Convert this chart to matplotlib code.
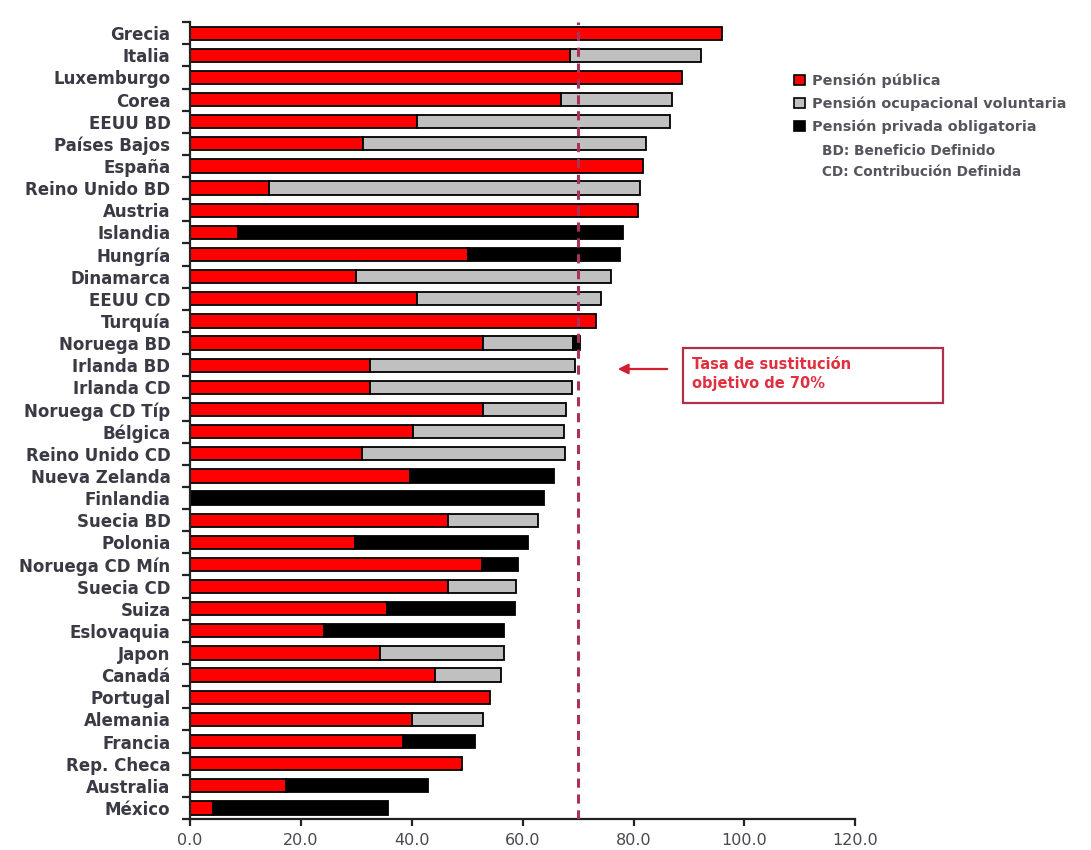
import matplotlib
matplotlib.use("Agg")
import matplotlib.pyplot as plt
from matplotlib.patches import Patch, Rectangle, FancyArrowPatch
import numpy as np

plt.rcParams["font.family"] = ["DejaVu Sans"]

paises = [
    "Grecia", "Italia", "Luxemburgo", "Corea", "EEUU BD", "Países Bajos",
    "España", "Reino Unido BD", "Austria", "Islandia", "Hungría", "Dinamarca",
    "EEUU CD", "Turquía", "Noruega BD", "Irlanda BD", "Irlanda CD",
    "Noruega CD Típ", "Bélgica", "Reino Unido CD", "Nueva Zelanda", "Finlandia",
    "Suecia BD", "Polonia", "Noruega CD Mín", "Suecia CD", "Suiza", "Eslovaquia",
    "Japon", "Canadá", "Portugal", "Alemania", "Francia", "Rep. Checa",
    "Australia", "México",
]
publica = [
    96.0, 68.5, 88.8, 67.0, 40.9, 31.2, 81.8, 14.3, 80.8, 8.7, 50.2, 30.0,
    40.9, 73.2, 52.8, 32.4, 32.4, 52.8, 40.3, 31.0, 39.7, 0.0, 46.6, 29.8,
    52.6, 46.6, 35.5, 24.2, 34.3, 44.2, 54.2, 40.0, 38.4, 49.0, 17.4, 4.2,
]
voluntaria = [
    0.0, 23.7, 0.0, 20.0, 45.6, 51.0, 0.0, 66.9, 0.0, 0.0, 0.0, 45.9,
    33.2, 0.0, 16.3, 37.1, 36.5, 15.1, 27.1, 36.6, 0.0, 0.0, 16.1, 0.0,
    0.0, 12.2, 0.0, 0.0, 22.3, 11.9, 0.0, 12.8, 0.0, 0.0, 0.0, 0.0,
]
obligatoria = [
    0.0, 0.0, 0.0, 0.0, 0.0, 0.0, 0.0, 0.0, 0.0, 69.4, 27.4, 0.0,
    0.0, 0.0, 1.2, 0.0, 0.0, 0.0, 0.0, 0.0, 26.0, 63.9, 0.0, 31.1,
    6.5, 0.0, 23.2, 32.5, 0.0, 0.0, 0.0, 0.0, 13.0, 0.0, 25.5, 31.6,
]
objetivo = 70
xticks = [0, 20, 40, 60, 80, 100, 120]

series = [
    ("Pensión pública", publica, "#ff0000"),
    ("Pensión ocupacional voluntaria", voluntaria, "#c0c0c0"),
    ("Pensión privada obligatoria", obligatoria, "#000000"),
]

fig = plt.figure(figsize=(10.91, 8.5), dpi=100)
ax = fig.add_axes([0.174, 0.0365, 0.610, 0.9375])

y = np.arange(len(paises))
left = np.zeros(len(paises))
for nombre, valores, color in series:
    v = np.array(valores)
    edges = ["#000000" if val > 0 else "none" for val in v]
    ax.barh(y, v, left=left, height=0.6, color=color, edgecolor=edges,
            linewidth=1.3, zorder=2)
    left += v

ax.axvline(objetivo, color="#a8325a", linestyle=(0, (3, 2.2)), linewidth=2.2,
           zorder=3)

ax.set_ylim(len(paises) - 0.5, -0.5)
ax.set_xlim(0, 120)
ax.set_yticks(y)
ax.set_yticklabels(paises)
ax.set_yticks(np.arange(len(paises) + 1) - 0.5, minor=True)
ax.set_xticks(xticks)
ax.set_xticklabels([f"{t:.1f}" for t in xticks])

label_color = "#3a3a44"
ax.tick_params(axis="y", which="major", length=0, pad=14, labelsize=12,
               labelcolor=label_color)
ax.tick_params(axis="y", which="minor", length=6, width=1.6, color="#222222")
ax.tick_params(axis="x", length=5, width=1.6, color="#222222", pad=5,
               labelsize=11.5, labelcolor="#48484f")
for lbl in ax.get_yticklabels():
    lbl.set_fontweight("bold")

for side in ("top", "right"):
    ax.spines[side].set_visible(False)
for side in ("left", "bottom"):
    ax.spines[side].set_linewidth(1.6)
    ax.spines[side].set_color("#222222")

handles = [Patch(facecolor=c, edgecolor="#000000", linewidth=1.2, label=n)
           for n, _, c in series]
fig.legend(handles=handles, loc="upper left",
           bbox_to_anchor=(0.716, 0.929), frameon=False,
           handlelength=0.75, handleheight=0.75, handletextpad=0.5,
           labelspacing=0.6, prop={"size": 10.4, "weight": "bold"},
           labelcolor="#55555d")
fig.text(0.753, 1 - 151 / 850, "BD: Beneficio Definido", fontsize=9.8,
         fontweight="bold", color="#55555d", va="center")
fig.text(0.753, 1 - 172 / 850, "CD: Contribución Definida", fontsize=9.8,
         fontweight="bold", color="#55555d", va="center")

# Target replacement-rate callout
fig.patches.append(Rectangle((683 / 1091, 1 - 403 / 850), 260 / 1091, 55 / 850,
                             transform=fig.transFigure, fill=False,
                             edgecolor="#b0304a", linewidth=1.6))
fig.text(692 / 1091, 1 - 374 / 850, "Tasa de sustitución\nobjetivo de 70%",
         fontsize=10.5, fontweight="bold", color="#e03040", va="center",
         linespacing=1.4)
fig.patches.append(FancyArrowPatch((670 / 1091, 1 - 369 / 850),
                                   (615 / 1091, 1 - 369 / 850),
                                   transform=fig.transFigure,
                                   arrowstyle="-|>,head_length=6,head_width=3",
                                   color="#d02030", linewidth=1.6))

fig.savefig("out.png", dpi=100)
